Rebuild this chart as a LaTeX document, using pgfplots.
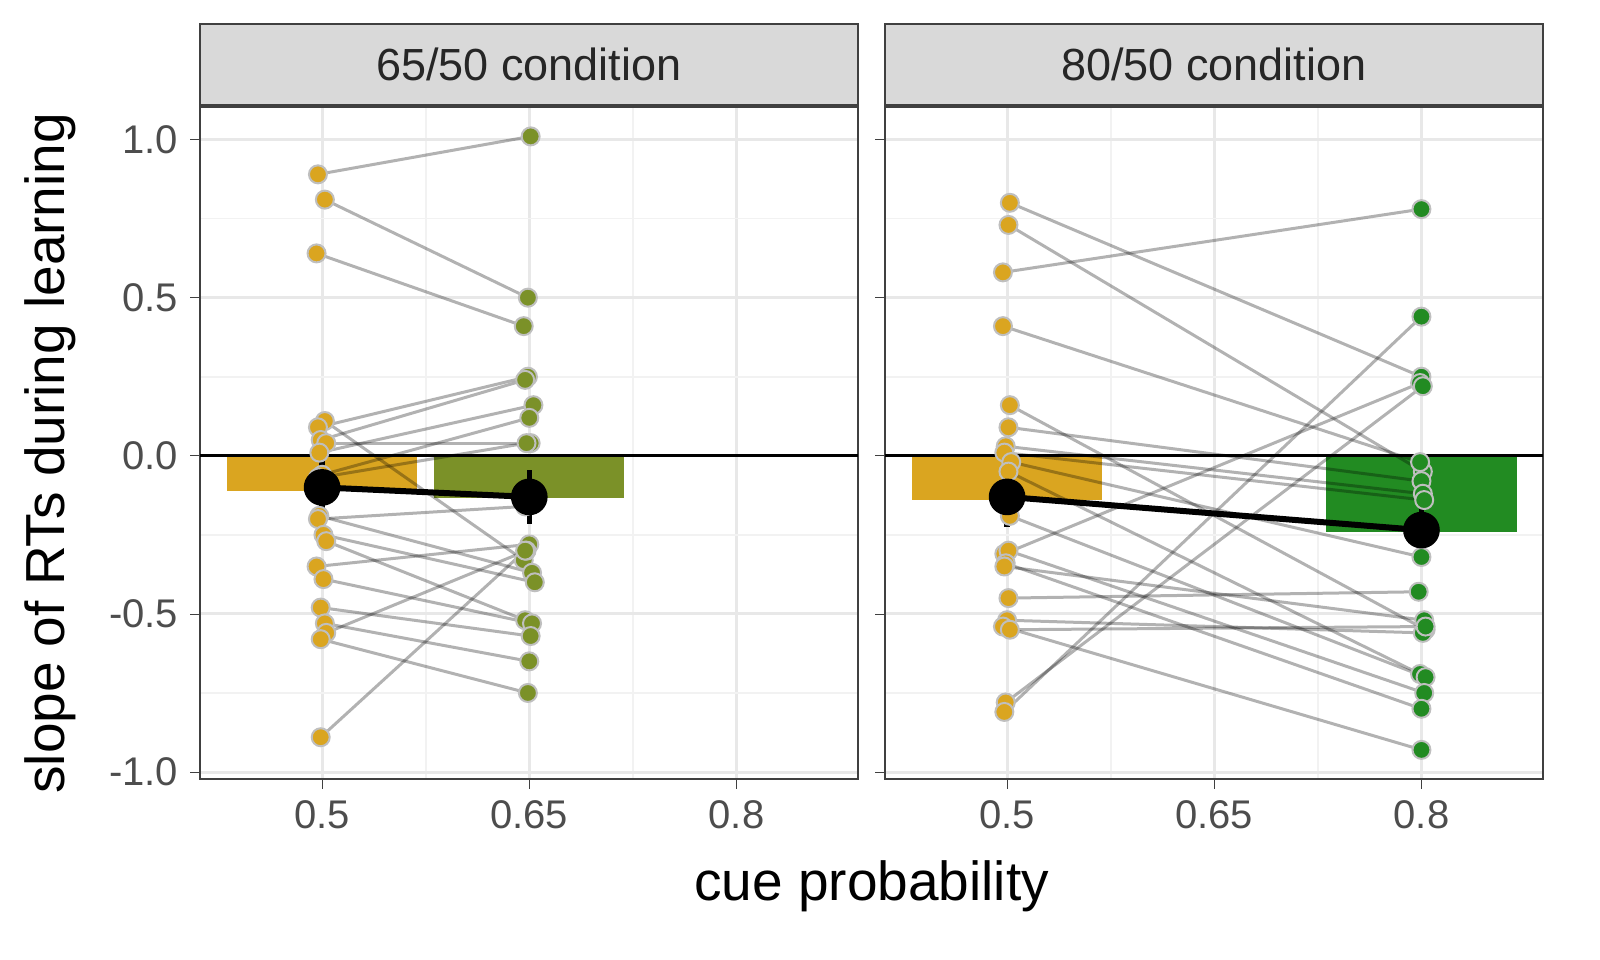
\documentclass[border=0pt]{standalone}
\usepackage{pgfplots}
\pgfplotsset{compat=1.18}
\usepackage{pgfplotstable}
\usepackage{fontspec}
\setmainfont{Liberation Sans}
\definecolor{cA}{HTML}{DAA520}
\definecolor{cB}{HTML}{7B9128}
\definecolor{cC}{HTML}{228B22}
\definecolor{tk}{HTML}{4D4D4D}
\pgfplotstableread{
x1 y1 x2 y2
0.497 0.89 0.651 1.01
0.502 0.81 0.649 0.50
0.496 0.64 0.646 0.41
0.502 0.11 0.646 -0.33
0.497 0.09 0.649 0.25
0.499 0.05 0.647 0.24
0.503 0.04 0.651 0.04
0.498 0.01 0.653 0.16
0.500 -0.06 0.650 0.12
0.497 -0.07 0.648 0.04
0.498 -0.19 0.652 -0.37
0.497 -0.20 0.647 -0.16
0.501 -0.25 0.654 -0.40
0.503 -0.27 0.647 -0.52
0.496 -0.35 0.650 -0.28
0.501 -0.39 0.652 -0.53
0.499 -0.48 0.651 -0.57
0.502 -0.53 0.650 -0.65
0.503 -0.56 0.648 -0.30
0.499 -0.58 0.649 -0.75
0.499 -0.89 0.647 -0.30
}\tA
\pgfplotstableread{
x1 y1 x2 y2
0.497 0.58 0.800 0.78
0.502 0.80 0.800 0.25
0.501 0.73 0.801 -0.05
0.497 0.41 0.799 -0.02
0.502 0.16 0.803 -0.55
0.501 0.09 0.800 -0.08
0.499 0.03 0.801 -0.12
0.498 0.01 0.802 -0.14
0.503 -0.02 0.800 -0.32
0.501 -0.05 0.799 -0.69
0.502 -0.19 0.803 -0.70
0.498 -0.31 0.799 0.23
0.501 -0.30 0.802 -0.75
0.499 -0.34 0.800 -0.80
0.498 -0.35 0.802 -0.52
0.501 -0.45 0.798 -0.43
0.500 -0.52 0.801 -0.56
0.497 -0.54 0.800 -0.93
0.502 -0.55 0.803 -0.54
0.499 -0.78 0.801 0.22
0.498 -0.81 0.800 0.44
}\tB
\pgfplotsset{panel/.style={
  scale only axis, width=197.4pt, height=201.6pt, anchor=south west,
  xmin=0.4116, xmax=0.888, ymin=-1.022, ymax=1.103,
  xtick={0.5,0.65,0.8}, xticklabels={0.5,0.65,0.8},
  minor xtick={0.575,0.725},
  ytick={-1,-0.5,0,0.5,1}, minor ytick={-0.75,-0.25,0.25,0.75},
  grid=both, major grid style={gray!18,line width=0.9pt}, minor grid style={gray!10,line width=0.5pt},
  axis line style={black!75,line width=0.5pt},
  tick style={black!75}, major tick length=3pt, minor tick length=0pt,
  tick align=outside, xtick pos=bottom, ytick pos=left,
  ticklabel style={font=\fontsize{12}{12}\selectfont, text=tk},
  /pgf/number format/assume math mode=true,
  clip=false,
},
pts/.style={only marks, mark=*, mark size=2.7pt, mark options={draw=gray!50, line width=0.6pt, fill=#1}},
segs/.style={quiver={u=\thisrow{x2}-\thisrow{x1}, v=\thisrow{y2}-\thisrow{y1}}, black, opacity=0.3, line width=0.9pt, -}
}
\begin{document}
\begin{tikzpicture}
\path[use as bounding box] (0,0) rectangle (480pt,288pt);
\begin{axis}[panel, at={(60pt,54.3pt)}, yticklabels={-1.0,-0.5,0.0,0.5,1.0}, name=a1]
\addplot[ybar, bar width=0.1377, fill=cA, draw=none] coordinates {(0.5,-0.11)};
\addplot[ybar, bar width=0.1377, fill=cB, draw=none] coordinates {(0.65,-0.135)};
\addplot[black, line width=0.9pt] coordinates {(0.4116,0) (0.888,0)};
\addplot[segs] table[x=x1,y=y1] {\tA};
\addplot[pts=cA] table[x=x1,y=y1] {\tA};
\addplot[pts=cB] table[x=x2,y=y2] {\tA};
\addplot[black, line width=1.8pt, mark=*, mark size=4.6pt, error bars/.cd, y dir=both, y explicit, error bar style={line width=1.6pt}, error mark=none]
  coordinates {(0.5,-0.10) +- (0,0.095) (0.65,-0.13) +- (0,0.085)};
\end{axis}
\begin{axis}[panel, at={(265.5pt,54.3pt)}, yticklabels={}, name=a2]
\addplot[ybar, bar width=0.1377, fill=cA, draw=none] coordinates {(0.5,-0.14)};
\addplot[ybar, bar width=0.1377, fill=cC, draw=none] coordinates {(0.8,-0.24)};
\addplot[black, line width=0.9pt] coordinates {(0.4116,0) (0.888,0)};
\addplot[segs] table[x=x1,y=y1] {\tB};
\addplot[pts=cA] table[x=x1,y=y1] {\tB};
\addplot[pts=cC] table[x=x2,y=y2] {\tB};
\addplot[black, line width=1.8pt, mark=*, mark size=4.6pt, error bars/.cd, y dir=both, y explicit, error bar style={line width=1.6pt}, error mark=none]
  coordinates {(0.5,-0.13) +- (0,0.095) (0.8,-0.235) +- (0,0.09)};
\end{axis}
\foreach \n/\t in {a1/65\slash50 condition, a2/80\slash50 condition}{
  \draw[fill=gray!30, draw=black!75, line width=0.5pt] ([yshift=0.6pt]\n.north west) rectangle ([yshift=24.9pt]\n.north east);
  \node[font=\fontsize{13.5}{13.5}\selectfont, text=black!85] at ([yshift=12.75pt]\n.north) {\t};
}
\node[rotate=90, font=\fontsize{16.5}{16.5}\selectfont] at (15pt,152pt) {slope of RTs during learning};
\node[font=\fontsize{16.5}{16.5}\selectfont] at (261.5pt,22pt) {cue probability};
\end{tikzpicture}
\end{document}
